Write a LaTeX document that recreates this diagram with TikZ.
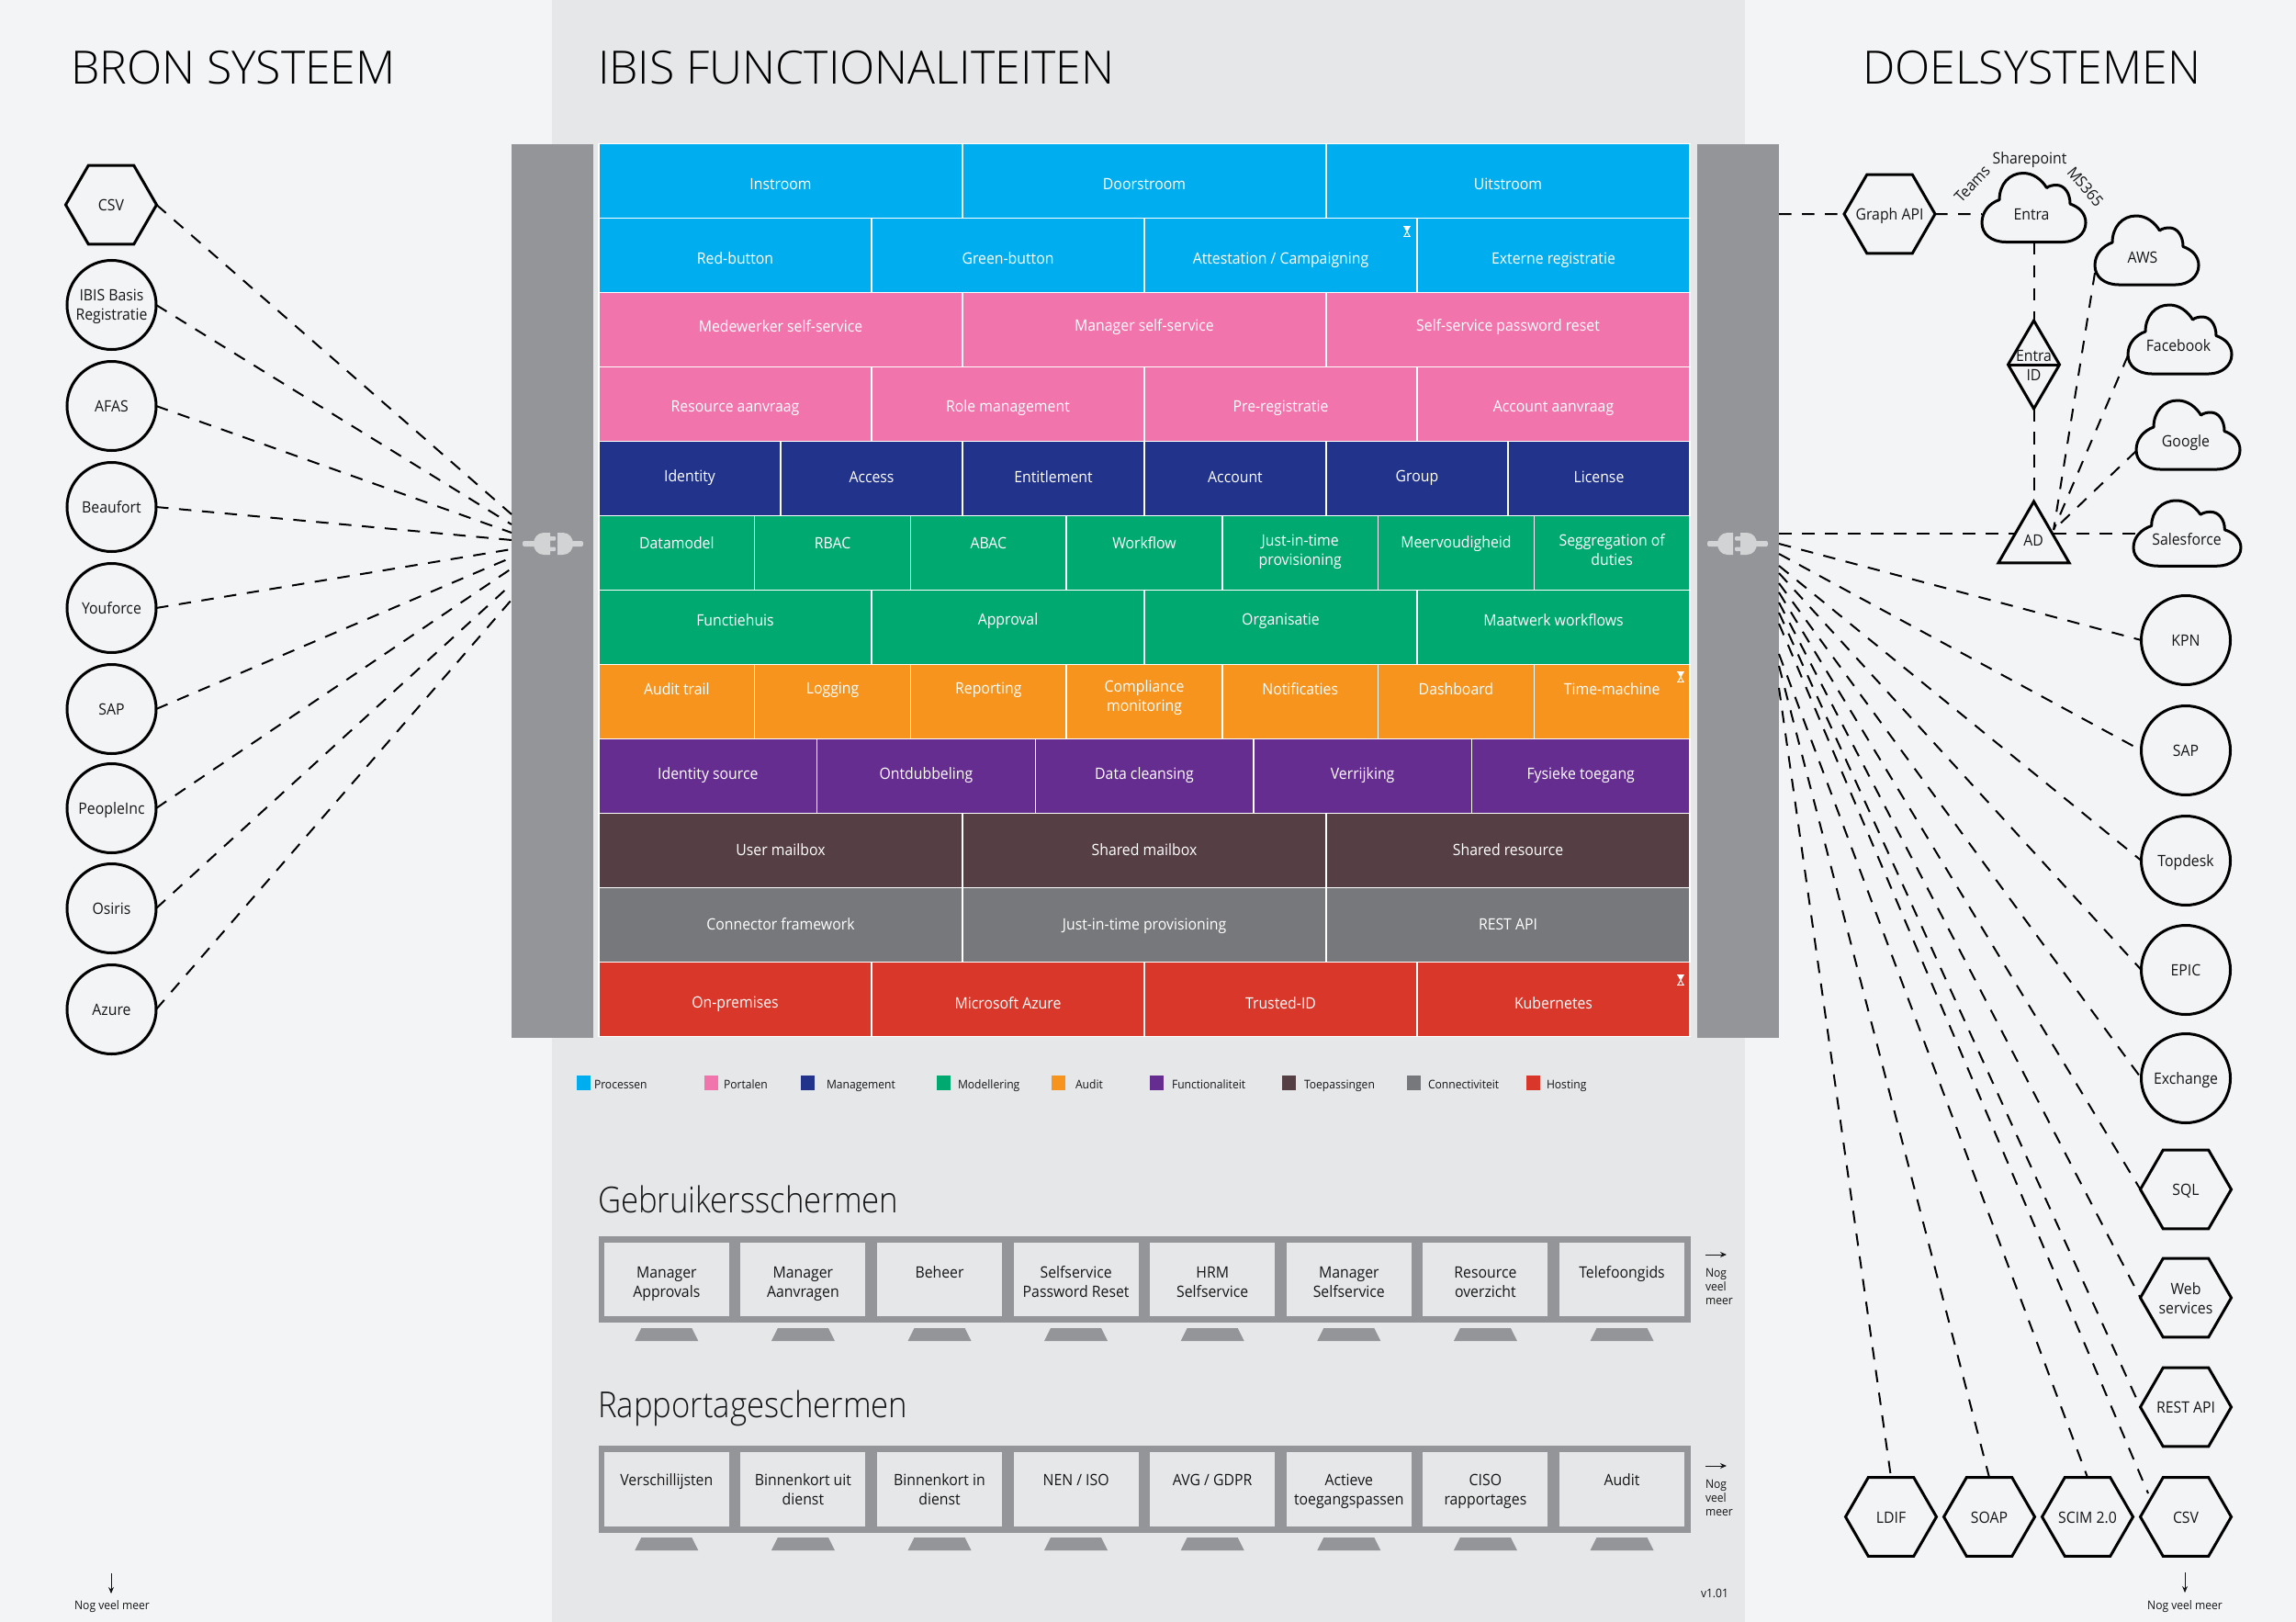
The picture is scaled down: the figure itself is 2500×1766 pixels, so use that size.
\documentclass[tikz,border=0pt]{standalone}
\usepackage{fontspec}
\setmainfont{Open Sans}[FakeStretch=0.93,Ligatures=NoCommon]
\newfontfamily\titlef{Open Sans Light}[FakeStretch=1.0,Ligatures=NoCommon]
\newfontfamily\subf{Open Sans Light}[FakeStretch=0.89,Ligatures=NoCommon]
\usetikzlibrary{shapes.geometric,arrows.meta}
\definecolor{bgside}{HTML}{F3F4F6}
\definecolor{bgmid}{HTML}{E6E7E9}
\definecolor{barg}{HTML}{939598}
\definecolor{plugg}{HTML}{D1D3D4}
\definecolor{cblue}{HTML}{00AEEF}
\definecolor{cpink}{HTML}{F274AC}
\definecolor{cnavy}{HTML}{21338A}
\definecolor{cgreen}{HTML}{00A96F}
\definecolor{corange}{HTML}{F7941E}
\definecolor{cpurple}{HTML}{662D91}
\definecolor{cbrown}{HTML}{553F45}
\definecolor{cgray}{HTML}{77787B}
\definecolor{cred}{HTML}{D9372A}
\definecolor{ink}{HTML}{151515}
\newcommand\st{\rule[-4pt]{0pt}{21pt}}
\newcommand\cl[1]{\makebox[0pt][c]{#1}}
\newcommand\twol[2]{\st #1\\\st #2}
\tikzset{
  lbl/.style={inner sep=0pt,outer sep=0pt,align=center,font=\fontsize{17}{21}\selectfont,text=ink,execute at begin node={\lineskiplimit=-100pt\st}},
  celltxt/.style={lbl,text=white},
  hexn/.style={regular polygon,regular polygon sides=6,minimum size=99pt,inner sep=0pt,outer sep=0pt,draw=black,line width=3pt,fill=bgside,align=center,font=\fontsize{17}{21}\selectfont,text=ink,execute at begin node={\lineskiplimit=-100pt\st}},
  circn/.style={circle,minimum size=97pt,inner sep=0pt,outer sep=0pt,draw=black,line width=3pt,fill=bgside,align=center,font=\fontsize{17}{21}\selectfont,text=ink,execute at begin node={\lineskiplimit=-100pt\st}},
  conn/.style={line width=2pt,draw=black,dash pattern=on 13.5pt off 11.5pt},
  legt/.style={inner sep=0pt,outer sep=0pt,anchor=west,font=\fontsize{13}{14}\selectfont,text=ink,text height=9pt,text depth=3pt},
  small/.style={inner sep=0pt,outer sep=0pt,font=\fontsize{13}{15}\selectfont,text=ink},
  bigt/.style={inner sep=0pt,outer sep=0pt,anchor=base west,font=\titlef\fontsize{50}{60}\selectfont,text=black},
  subt/.style={inner sep=0pt,outer sep=0pt,anchor=base west,font=\subf\fontsize{39}{46}\selectfont,text=ink},
  paneb/.style={fill=bgmid,draw=none},
  barb/.style={fill=barg,draw=none},
  noteline/.style={-{Stealth[length=7pt,width=6pt]},line width=1pt,draw=ink}
}
\newcommand\brow[6]{%
  \foreach \t/\d [count=\c] in {#6} {
    \pgfmathsetmacro\xa{652+(\c-1)*1188/#3}
    \pgfmathsetmacro\xb{652+\c*1188/#3}
    \fill[#2] (\xa,#4) rectangle (\xb,#4+81);
    \draw[white,line width=1.4pt] (\xa,#4) rectangle (\xb,#4+81);
    \node[celltxt] (#1-\c) at ({(\xa+\xb)/2},{#5+\d}) {\t};
  }}
\newcommand\cloudn[7]{% name x y sx sy textx/y text
  \begin{scope}[shift={(#2,#3)},xscale=#4,yscale=#5]
    \draw[line width=3pt,fill=bgside,line join=round]
      (26,75) .. controls (10,75) and (0,66) .. (0,54)
      .. controls (0,42) and (8,33) .. (19,29)
      .. controls (19,12) and (30,0) .. (45,0)
      .. controls (56,0) and (65,7) .. (70.5,16)
      .. controls (73,14) and (77,13) .. (81,13)
      .. controls (90,13) and (96,22) .. (96,33.5)
      .. controls (106,37) and (113,44) .. (113,54)
      .. controls (113,66) and (102,75) .. (88,75) -- cycle;
    \coordinate (#1) at (56.5,37.5);
    \coordinate (#1-b) at (56.5,75);
  \end{scope}
  \node[lbl] (#1-t) at (#6) {#7};}
\newcommand\hourg[2]{%
  \begin{scope}[shift={(#1,#2)}]
    \draw[white,line width=1.1pt] (-4,-5.5) -- (4,-5.5) (-4,5.5) -- (4,5.5);
    \draw[white,line width=1pt] (-3,-5.5) -- (3,5.5) (3,-5.5) -- (-3,5.5);
    \fill[white] (-3,-5.5) -- (3,-5.5) -- (0,0) -- cycle;
  \end{scope}}
\newcommand\screens[5]{% y-outer-top y-outer-bot y-pane-top y-pane-bot y-stand-top
  \fill[barg] (652,#1) rectangle (1841,#2);
  \foreach \i in {0,...,7} {
    \pgfmathsetmacro\cx{725.8+148.6*\i}
    \fill[paneb] (\cx-68,#3) rectangle (\cx+68,#4);
    \fill[barg] (\cx-27.5,#5) -- (\cx+27.5,#5) -- (\cx+34.5,#5+14) -- (\cx-34.5,#5+14) -- cycle;
  }}
\begin{document}
\begin{tikzpicture}[x=1pt,y=-1pt]
\useasboundingbox (0,0) rectangle (2500,1766);
\fill[bgside] (0,0) rectangle (2500,1766);
\fill[bgmid] (601,0) rectangle (1900,1766);
% titles
\node[bigt] (t1) at (77,92) {BRON SYSTEEM};
\node[bigt] (t2) at (651,92) {IBIS FUNCTIONALITEITEN};
\node[bigt] (t3) at (2028,92) {DOELSYSTEMEN};
% bars
\fill[barb] (557,156.5) rectangle (646,1130);
\fill[barb] (1848,156.5) rectangle (1937,1130);
% plugs
\begin{scope}[shift={(601,592)}]
  \fill[plugg,rounded corners=2pt] (-32,-3) rectangle (-15,3);
  \fill[plugg] (-2,-12) -- (-9,-12) .. controls (-16,-12) and (-20,-6) .. (-20,0) .. controls (-20,6) and (-16,12) .. (-9,12) -- (-2,12) -- cycle;
  \fill[plugg,rounded corners=1pt] (-3,-8) rectangle (4,-3.5);
  \fill[plugg,rounded corners=1pt] (-3,3.5) rectangle (4,8);
  \fill[plugg] (6,-12) -- (12,-12) .. controls (19,-12) and (23,-6) .. (23,0) .. controls (23,6) and (19,12) .. (12,12) -- (6,12) -- cycle;
  \fill[plugg,rounded corners=2pt] (20,-3) rectangle (34,3);
\end{scope}
\begin{scope}[shift={(1893,592)},xscale=-1]
  \fill[plugg,rounded corners=2pt] (-32,-3) rectangle (-15,3);
  \fill[plugg] (-2,-12) -- (-9,-12) .. controls (-16,-12) and (-20,-6) .. (-20,0) .. controls (-20,6) and (-16,12) .. (-9,12) -- (-2,12) -- cycle;
  \fill[plugg,rounded corners=1pt] (-3,-8) rectangle (4,-3.5);
  \fill[plugg,rounded corners=1pt] (-3,3.5) rectangle (4,8);
  \fill[plugg] (6,-12) -- (12,-12) .. controls (19,-12) and (23,-6) .. (23,0) .. controls (23,6) and (19,12) .. (12,12) -- (6,12) -- cycle;
  \fill[plugg,rounded corners=2pt] (20,-3) rectangle (34,3);
\end{scope}
% rows
\brow{ra}{cblue}{3}{156.5}{200}{Instroom/0,Doorstroom/0,Uitstroom/0}
\brow{rb}{cblue}{4}{237.5}{281}{Red-button/0,Green-button/0,{Attestation / Campaigning}/0,Externe registratie/0}
\brow{rc}{cpink}{3}{318.5}{354.5}{Medewerker self-service/0,Manager self-service/0,Self-service password reset/0}
\brow{rd}{cpink}{4}{399.5}{442.5}{Resource aanvraag/0,Role management/0,Pre-registratie/0,Account aanvraag/0}
\brow{re}{cnavy}{6}{480.5}{518.5}{Identity/0,Access/0,Entitlement/0,Account/0,Group/0,License/0}
\brow{rf}{cgreen}{7}{561.5}{590.5}{Datamodel/0,RBAC/0,ABAC/0,Workflow/0,{\twol{Just-in-time}{provisioning}}/8,Meervoudigheid/0,{\twol{Seggregation of}{duties}}/8}
\brow{rg}{cgreen}{4}{642.5}{674.5}{Functiehuis/0,Approval/0,Organisatie/0,Maatwerk workflows/0}
\brow{rh}{corange}{7}{723.5}{749.5}{Audit trail/0,Logging/0,Reporting/0,{\twol{Compliance}{monitoring}}/8,Notificaties/0,Dashboard/0,Time-machine/0}
\brow{ri}{cpurple}{5}{804.5}{842.5}{Identity source/0,Ontdubbeling/0,Data cleansing/0,Verrijking/0,Fysieke toegang/0}
\brow{rj}{cbrown}{3}{885.5}{925}{User mailbox/0,Shared mailbox/0,Shared resource/0}
\brow{rk}{cgray}{3}{966.5}{1006}{Connector framework/0,Just-in-time provisioning/0,REST API/0}
\brow{rl}{cred}{4}{1047.5}{1091.5}{On-premises/0,Microsoft Azure/0,Trusted-ID/0,Kubernetes/0}
\hourg{1532}{252}
\hourg{1830}{737}
\hourg{1830}{1067}
% legend
\foreach \col/\xs/\xt/\lab [count=\c] in {
  cblue/627.5/647/Processen, cpink/767/788/Portalen, cnavy/872/900/Management, cgreen/1020/1043/Modellering,
  corange/1145/1171/Audit, cpurple/1252/1276/Functionaliteit, cbrown/1396/1420/Toepassingen, cgray/1532/1555/Connectiviteit, cred/1662/1684/Hosting} {
  \fill[\col] (\xs,1171) rectangle (\xs+15,1187);
  \node[legt] (leg\c) at (\xt,1182) {\lab};
}
% screens
\node[subt] (s1) at (651,1320) {Gebruikersschermen};
\node[subt] (s2) at (651,1543) {Rapportageschermen};
\screens{1346}{1440}{1353}{1433}{1446}
\screens{1574}{1669}{1581}{1662}{1674}
\foreach \txt [count=\c] in {{\twol{Manager}{Approvals}},{\twol{Manager}{Aanvragen}},Beheer,{\twol{Selfservice}{Password Reset}},{\twol{HRM}{Selfservice}},{\twol{Manager}{Selfservice}},{\twol{Resource}{overzicht}},Telefoongids} {
  \pgfmathsetmacro\cx{725.8+148.6*(\c-1)}
  \node[lbl,anchor=north] (u\c) at (\cx,1374) {\txt};
}
\foreach \txt [count=\c] in {Verschillijsten,{\twol{Binnenkort uit}{dienst}},{\twol{Binnenkort in}{dienst}},NEN / ISO,AVG / GDPR,{\twol{Actieve}{toegangspassen}},{\twol{CISO}{rapportages}},Audit} {
  \pgfmathsetmacro\cx{725.8+148.6*(\c-1)}
  \node[lbl,anchor=north] (p\c) at (\cx,1600) {\txt};
}
% notes
\coordinate (na1) at (1857,1366); \coordinate (nb1) at (1880,1366);
\draw[noteline] (na1) -- (nb1);
\node[small,anchor=north west,align=left] (n1) at (1857,1381) {Nog\\veel\\meer};
\coordinate (na2) at (1857,1596); \coordinate (nb2) at (1880,1596);
\draw[noteline] (na2) -- (nb2);
\node[small,anchor=north west,align=left] (n2) at (1857,1611) {Nog\\veel\\meer};
\node[small] (ver) at (1867,1735) {v1.01};
\coordinate (na3) at (121,1713); \coordinate (nb3) at (121,1735);
\draw[noteline] (na3) -- (nb3);
\node[small] (n3) at (122,1749) {Nog veel meer};
\coordinate (na4) at (2379,1712); \coordinate (nb4) at (2379,1734);
\draw[noteline] (na4) -- (nb4);
\node[small] (n4) at (2379,1749) {Nog veel meer};
% left nodes
\node[hexn] (lcsv) at (121,223) {CSV};
\node[circn] (libis) at (121.5,332) {\twol{\cl{IBIS Basis}}{\cl{Registratie}}};
\node[circn] (lafas) at (121.5,442) {AFAS};
\node[circn] (lbeau) at (121.5,552) {Beaufort};
\node[circn] (lyouf) at (121.5,662) {Youforce};
\node[circn] (lsap) at (121.5,772) {SAP};
\node[circn] (lpeop) at (121.5,880) {PeopleInc};
\node[circn] (losir) at (121.5,989) {Osiris};
\node[circn] (lazur) at (121.5,1099) {Azure};
% left connectors
\foreach \n/\y in {lcsv/560,libis/571,lafas/580,lbeau/588,lyouf/598,lsap/607,lpeop/619,losir/636,lazur/653} {
  \coordinate (e\n) at (557,\y);
  \draw[conn] (\n.east) -- (e\n);
}
% right nodes
\node[circn] (rkpn) at (2380,697) {KPN};
\node[circn] (rsap) at (2380,817) {SAP};
\node[circn] (rtop) at (2380,937) {Topdesk};
\node[circn] (repic) at (2380,1056) {EPIC};
\node[circn] (rexch) at (2380,1174) {Exchange};
\node[hexn] (rsql) at (2380,1295) {SQL};
\node[hexn] (rweb) at (2380,1413) {\twol{\cl{Web}}{\cl{services}}};
\node[hexn] (rrest) at (2380,1532) {\cl{REST API}};
\node[hexn] (bldif) at (2059,1651.5) {LDIF};
\node[hexn] (bsoap) at (2166,1651.5) {SOAP};
\node[hexn] (bscim) at (2273,1651.5) {\cl{SCIM 2.0}};
\node[hexn] (bcsv) at (2380,1651.5) {CSV};
\coordinate (bcsvc) at (2339,1626);
% right connectors
\foreach \n/\y/\a in {rkpn/592/west,rsap/603/west,rtop/616/west,repic/624/west,rexch/635/west,rsql/645/west,rweb/656/west,rrest/667/west,bcsvc/679/center,bscim/712/north,bsoap/725/north,bldif/749/north} {
  \coordinate (f\n) at (1937,\y);
  \draw[conn] (f\n) -- (\n.\a);
}
% upper-right group
\node[hexn] (graph) at (2057.5,233) {\cl{Graph API}};
\cloudn{entra}{2158}{188.5}{1}{1}{2212,233}{Entra}
\cloudn{aws}{2281}{235}{1}{1}{2333,280}{AWS}
\cloudn{fb}{2317}{332}{1}{1}{2372,376}{Facebook}
\cloudn{goog}{2326}{436}{1}{1}{2380,480}{Google}
\cloudn{sf}{2323}{545}{1.035}{.95}{2381,587}{Salesforce}
\node[lbl,rotate=47] (teams) at (2147,200) {Teams};
\node[lbl] (sharep) at (2210,172) {Sharepoint};
\node[lbl,rotate=-50] (ms365) at (2271,203) {MS365};
\node[diamond,draw=black,line width=3pt,minimum width=56pt,minimum height=96pt,inner sep=0pt,outer sep=0pt,fill=bgside] (eid) at (2214.5,397) {};
\draw[line width=3pt] (eid.west) -- (eid.east);
\node[lbl] (eidt) at (2214.5,397) {\twol{Entra}{ID}};
\node[regular polygon,regular polygon sides=3,draw=black,line width=3pt,fill=bgside,minimum size=89pt,inner sep=0pt,outer sep=0pt] (ad) at (2214.5,590.5) {};
\node[lbl] (adt) at (2214,588) {AD};
\coordinate (gs) at (1937,233);
\coordinate (entraL) at (2158,233);
\coordinate (as) at (1937,581);
\coordinate (adL) at (2193,581);
\coordinate (adR) at (2236,581);
\coordinate (adP) at (2236,577);
\coordinate (sfL) at (2325,581);
\coordinate (awsL) at (2281,297);
\coordinate (fbL) at (2317,387);
\coordinate (gL) at (2326,491);
\draw[conn] (gs) -- (graph.west);
\draw[conn] (graph.east) -- (entraL);
\draw[conn] (entra-b) -- (eid.north);
\draw[conn] (eid.south) -- (ad.corner 1);
\draw[conn] (as) -- (adL);
\draw[conn] (adR) -- (sfL);
\draw[conn] (awsL) -- (adP);
\draw[conn] (fbL) -- (adP);
\draw[conn] (gL) -- (adP);
\end{tikzpicture}
\end{document}
